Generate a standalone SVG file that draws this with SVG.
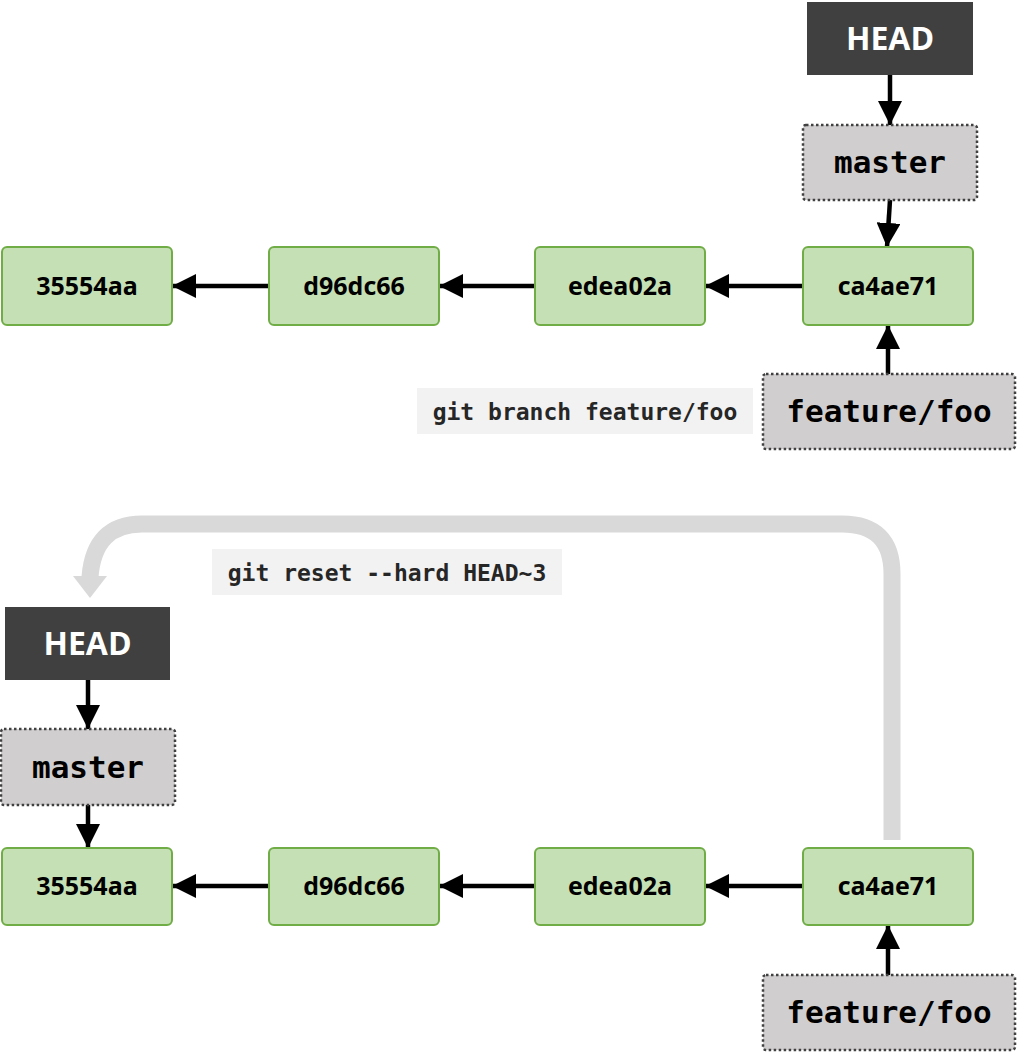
<svg xmlns="http://www.w3.org/2000/svg" width="1018" height="1055" viewBox="0 0 1018 1055">
<style>
.head rect{fill:#404040}
.head text{fill:#fff;font-family:"Open Sans","Noto Sans",sans-serif;font-weight:700;font-size:32px;text-anchor:middle}
.ref rect{fill:#d0cece;stroke:#404040;stroke-width:2.5;stroke-dasharray:2.5 2.5}
.ref text{fill:#000;font-family:"DejaVu Sans Mono","Liberation Mono",monospace;font-weight:700;font-size:31px;text-anchor:middle}
.commit rect{fill:#c5e0b4;stroke:#70ad47;stroke-width:2}
.commit text{fill:#000;font-family:"Open Sans","Noto Sans",sans-serif;font-weight:700;font-size:25px;text-anchor:middle}
.cmd rect{fill:#f2f2f2}
.cmd text{fill:#262626;font-family:"DejaVu Sans Mono","Liberation Mono",monospace;font-weight:700;font-size:23px;text-anchor:middle}
.edge{stroke:#000;stroke-width:4.5;fill:none;marker-end:url(#arr)}
</style>
<defs>
<marker id="arr" markerUnits="userSpaceOnUse" markerWidth="24" markerHeight="24" refX="24" refY="12" orient="auto">
<path d="M0,0 L24,12 L0,24 Z" fill="#000"/>
</marker>
</defs>
<rect width="1018" height="1055" fill="#fff"/>

<g id="connectors">
<line class="edge" x1="890" y1="75" x2="890" y2="125"/>
<line class="edge" x1="890" y1="200" x2="887" y2="247"/>
<line class="edge" x1="888" y1="374" x2="888" y2="325"/>
<line class="edge" x1="803" y1="286" x2="705" y2="286"/>
<line class="edge" x1="535" y1="286" x2="439" y2="286"/>
<line class="edge" x1="269" y1="286" x2="172" y2="286"/>
<line class="edge" x1="88" y1="680" x2="88" y2="729"/>
<line class="edge" x1="88" y1="805" x2="88" y2="848"/>
<line class="edge" x1="803" y1="886" x2="705" y2="886"/>
<line class="edge" x1="535" y1="886" x2="439" y2="886"/>
<line class="edge" x1="269" y1="886" x2="172" y2="886"/>
<line class="edge" x1="888" y1="975" x2="888" y2="925"/>
<g id="reset-arrow">
<path d="M892,840 L892,574 Q892,524 842,524 L142,524 Q94,524 90,577" fill="none" stroke="#d9d9d9" stroke-width="17"/>
<path d="M73,576 L107,576 L90,598 Z" fill="#d9d9d9"/>
</g>
</g>

<g id="head-top" class="head"><rect x="807" y="2" width="166" height="73"/><text x="890" y="50">HEAD</text></g>
<g id="master-top" class="ref"><rect x="803" y="125" width="174" height="75" rx="3"/><text x="890" y="173">master</text></g>
<g id="c-35554aa-top" class="commit"><rect x="2" y="247" width="170" height="78" rx="5"/><text x="87" y="295">35554aa</text></g>
<g id="c-d96dc66-top" class="commit"><rect x="269" y="247" width="170" height="78" rx="5"/><text x="354" y="295">d96dc66</text></g>
<g id="c-edea02a-top" class="commit"><rect x="535" y="247" width="170" height="78" rx="5"/><text x="620" y="295">edea02a</text></g>
<g id="c-ca4ae71-top" class="commit"><rect x="803" y="247" width="170" height="78" rx="5"/><text x="888" y="295">ca4ae71</text></g>
<g id="feature-top" class="ref"><rect x="763" y="374" width="252" height="75" rx="3"/><text x="889" y="422">feature/foo</text></g>
<g id="cmd-branch" class="cmd"><rect x="417" y="388" width="336" height="46"/><text x="585" y="420">git branch feature/foo</text></g>

<g id="cmd-reset" class="cmd"><rect x="212" y="549" width="350" height="46"/><text x="387" y="581">git reset --hard HEAD~3</text></g>
<g id="head-bottom" class="head"><rect x="5" y="607" width="165" height="73"/><text x="87.5" y="655">HEAD</text></g>
<g id="master-bottom" class="ref"><rect x="1" y="729" width="174" height="76" rx="3"/><text x="88" y="778">master</text></g>
<g id="c-35554aa-bottom" class="commit"><rect x="2" y="848" width="170" height="77" rx="5"/><text x="87" y="895">35554aa</text></g>
<g id="c-d96dc66-bottom" class="commit"><rect x="269" y="848" width="170" height="77" rx="5"/><text x="354" y="895">d96dc66</text></g>
<g id="c-edea02a-bottom" class="commit"><rect x="535" y="848" width="170" height="77" rx="5"/><text x="620" y="895">edea02a</text></g>
<g id="c-ca4ae71-bottom" class="commit"><rect x="803" y="848" width="170" height="77" rx="5"/><text x="888" y="895">ca4ae71</text></g>
<g id="feature-bottom" class="ref"><rect x="763" y="975" width="252" height="75" rx="3"/><text x="889" y="1023">feature/foo</text></g>
</svg>
